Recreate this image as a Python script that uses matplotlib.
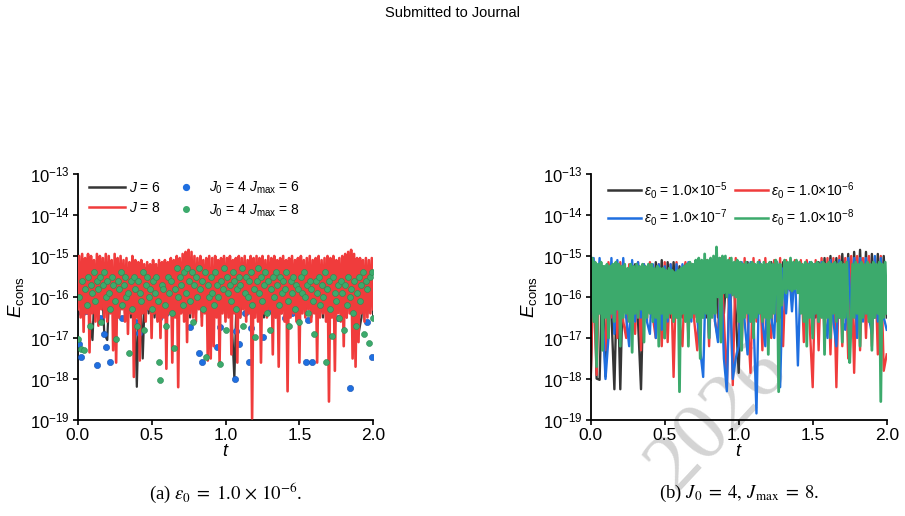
import numpy as np
import matplotlib
matplotlib.use('Agg')
import matplotlib.pyplot as plt
from matplotlib.lines import Line2D
from matplotlib.ticker import NullLocator

plt.rcParams['font.family'] = ['Liberation Sans', 'DejaVu Sans']
plt.rcParams['mathtext.fontset'] = 'custom'
plt.rcParams['mathtext.rm'] = 'Liberation Sans'
plt.rcParams['mathtext.it'] = 'Liberation Sans:italic'
plt.rcParams['mathtext.bf'] = 'Liberation Sans:bold'

# ---- data (log10 of E_cons) ----
# panel (a): J = 8, sampled every 0.01
t_a_red = np.linspace(0, 2, 201)
e_a_red = [
    -16.3, -15.0, -16.5, -14.95, -16.85, -15.05, -16.4, -14.95, -17.35, -15.0,
    -16.4, -15.1, -16.6, -14.95, -16.7, -15.0, -16.3, -15.05, -16.5, -14.95,
    -16.6, -15.0, -16.4, -15.1, -17.3, -14.95, -17.6, -15.05, -16.5, -15.0,
    -16.3, -15.1, -16.6, -15.05, -16.9, -15.15, -16.4, -15.0, -17.95, -15.1,
    -16.5, -15.15, -17.55, -15.1, -16.4, -15.2, -16.6, -15.15, -16.3, -15.2,
    -17.0, -15.1, -16.4, -15.2, -16.6, -15.1, -17.0, -15.15, -16.5, -15.1,
    -17.75, -15.15, -16.4, -15.05, -17.6, -15.1, -16.5, -15.0, -18.2, -15.05,
    -16.4, -14.95, -16.6, -14.9, -17.1, -14.85, -16.4, -14.9, -16.5, -15.0,
    -16.6, -15.05, -16.3, -15.0, -16.7, -15.1, -16.4, -15.05, -17.55, -15.0,
    -17.5, -15.05, -17.2, -15.0, -16.5, -15.1, -17.6, -15.05, -16.4, -15.0,
    -16.6, -15.05, -16.5, -15.0, -17.4, -15.1, -16.4, -15.05, -17.6, -15.0,
    -16.5, -15.05, -16.3, -15.0, -16.6, -15.1, -16.4, -15.0, -18.96, -15.05,
    -16.5, -15.0, -16.6, -15.05, -17.6, -15.0, -16.4, -15.1, -16.5, -15.0,
    -16.3, -15.05, -17.4, -15.0, -16.5, -15.1, -17.7, -15.05, -16.4, -15.0,
    -16.6, -15.1, -18.3, -15.05, -16.5, -15.0, -16.4, -15.1, -16.6, -15.05,
    -17.6, -15.0, -16.4, -15.1, -16.5, -15.05, -16.3, -15.0, -16.6, -15.1,
    -16.4, -15.05, -17.6, -15.0, -16.5, -15.1, -16.4, -15.05, -16.6, -15.0,
    -18.55, -15.05, -16.5, -15.0, -17.8, -15.1, -16.4, -15.05, -16.6, -15.0,
    -17.2, -14.95, -16.5, -14.9, -16.4, -14.85, -17.5, -14.95, -17.7, -15.05,
    -17.1, -15.05, -16.4, -15.1, -16.6, -15.05, -16.5, -15.1, -16.4, -15.05,
    -16.3,
]

# panel (a): J = 6, sampled every 0.02
t_a_black = np.linspace(0, 2, 101)
e_a_black = [
    -16.3, -15.3, -16.4, -15.3, -16.5, -17.05, -15.3, -16.4, -15.35, -16.9,
    -17.05, -15.3, -16.4, -15.3, -16.5, -15.35, -16.4, -15.3, -16.5, -15.3,
    -18.19, -15.4, -17.5, -15.3, -16.4, -15.35, -16.5, -15.3, -16.4, -15.3,
    -16.6, -15.3, -16.4, -15.35, -16.5, -15.3, -16.4, -15.3, -16.5, -15.3,
    -16.4, -15.35, -16.5, -15.3, -16.4, -15.3, -16.5, -15.35, -16.4, -15.3,
    -16.5, -15.3, -16.4, -18.0, -15.3, -16.5, -15.3, -16.4, -15.35, -16.5,
    -15.3, -16.4, -15.3, -16.5, -15.35, -16.4, -15.3, -16.5, -15.3, -16.4,
    -15.35, -16.5, -15.3, -16.4, -15.3, -16.5, -15.35, -16.4, -15.3, -16.5,
    -15.3, -16.4, -15.35, -16.5, -15.3, -16.4, -15.3, -16.5, -15.35, -16.4,
    -15.3, -16.5, -15.3, -16.4, -15.35, -16.9, -16.5, -15.3, -16.4, -15.35,
    -16.5,
]

# panel (a): J0 = 4, Jmax = 6 (dots)
t_a_blue = [0.011, 0.022, 0.03, 0.065, 0.1, 0.128, 0.15, 0.178, 0.189, 0.218,
            0.25, 0.3, 0.35, 0.39, 0.414, 0.45, 0.5, 0.55, 0.6, 0.65,
            0.7, 0.759, 0.8, 0.82, 0.842, 0.9, 0.94, 0.96, 1.0, 1.063,
            1.07, 1.09, 1.13, 1.16, 1.17, 1.2, 1.254, 1.3, 1.35, 1.4,
            1.45, 1.5, 1.543, 1.556, 1.588, 1.63, 1.68, 1.72, 1.76, 1.8,
            1.84, 1.88, 1.93, 1.96, 1.99]
e_a_blue = [-17.15, -17.47, -16.4, -16.34, -15.8, -17.66, -16.5, -16.9, -17.23, -17.58,
            -16.4, -16.5, -15.9, -16.6, -16.88, -16.3, -15.7, -16.5, -16.4, -15.8,
            -16.3, -16.73, -15.9, -17.36, -17.58, -16.4, -17.23, -16.73, -16.0, -18.0,
            -16.84, -17.15, -16.4, -17.58, -16.76, -15.9, -16.98, -16.3, -15.8, -16.5,
            -16.4, -16.1, -17.58, -16.57, -17.58, -16.3, -15.9, -16.4, -16.5, -15.8,
            -18.23, -16.4, -16.3, -16.6, -17.46]

# panel (a): J0 = 4, Jmax = 8 (dots), sampled every 0.01
t_a_green = np.linspace(0, 2, 201)
e_a_green = [
    -17.03, -16.0, -17.28, -15.6, -17.3, -15.8, -16.2, -15.5, -16.7, -15.7,
    -15.9, -15.4, -16.1, -15.6, -15.8, -15.5, -16.6, -15.7, -15.4, -16.0,
    -15.6, -15.9, -16.3, -15.5, -15.7, -16.1, -17.03, -15.6, -15.8, -15.4,
    -16.2, -15.7, -15.5, -16.0, -15.9, -17.37, -15.6, -16.3, -15.5, -15.8,
    -16.7, -15.6, -15.9, -16.1, -15.4, -16.8, -15.7, -15.5, -16.0, -15.8,
    -16.3, -15.6, -15.9, -15.5, -16.1, -17.59, -18.02, -15.7, -15.8, -16.2,
    -16.7, -15.5, -15.9, -15.6, -16.4, -17.25, -15.8, -15.3, -16.0, -15.5,
    -15.7, -16.2, -15.4, -15.9, -15.3, -15.6, -16.1, -15.4, -16.6, -15.7,
    -15.5, -16.0, -15.3, -15.8, -15.6, -16.3, -15.4, -17.47, -15.7, -16.0,
    -15.5, -15.9, -16.2, -15.4, -15.7, -16.0, -17.64, -15.6, -15.8, -15.3,
    -16.8, -15.5, -15.9, -15.7, -16.1, -15.4, -15.6, -16.3, -15.8, -15.5,
    -15.7, -15.3, -16.7, -15.9, -15.5, -16.0, -15.6, -15.4, -16.2, -15.8,
    -16.98, -15.6, -15.3, -15.9, -15.5, -16.1, -15.7, -15.4, -16.4, -15.6,
    -16.8, -15.8, -15.5, -16.0, -15.4, -15.7, -16.2, -15.5, -15.9, -15.6,
    -15.8, -15.4, -16.1, -16.7, -15.6, -15.9, -15.5, -16.3, -15.7, -15.8,
    -16.6, -15.5, -15.9, -15.4, -16.0, -15.7, -16.4, -15.6, -15.8, -16.1,
    -16.9, -15.6, -15.9, -15.5, -16.2, -15.7, -16.0, -15.4, -17.59, -15.8,
    -15.6, -16.3, -16.96, -15.5, -15.9, -16.1, -15.7, -16.5, -15.6, -15.9,
    -16.8, -15.7, -16.2, -15.5, -16.0, -15.8, -16.4, -15.6, -16.7, -15.9,
    -15.5, -16.1, -15.7, -15.4, -16.9, -15.6, -15.8, -17.11, -15.5, -15.4,
    -16.5,
]

# panel (b): eps0 = 1e-8 (green, every 0.01)
t_b_green = np.linspace(0, 2, 201)
e_b_green = [
    -16.3, -15.05, -16.6, -15.15, -17.7, -15.2, -16.4, -15.15, -17.3, -15.25,
    -16.5, -15.2, -17.0, -15.25, -16.4, -15.2, -16.6, -15.15, -16.3, -15.2,
    -17.2, -15.25, -16.5, -15.2, -16.4, -15.3, -16.6, -15.2, -17.35, -15.25,
    -16.4, -15.2, -16.5, -15.25, -16.3, -15.2, -17.1, -15.25, -16.5, -15.2,
    -16.4, -15.2, -16.6, -15.3, -16.5, -15.25, -17.2, -15.3, -16.4, -15.3,
    -17.0, -15.35, -16.5, -15.3, -16.4, -15.35, -16.6, -15.4, -16.5, -15.35,
    -18.31, -15.3, -16.4, -15.25, -16.6, -15.2, -17.2, -15.15, -16.5, -15.2,
    -16.4, -15.1, -16.6, -15.05, -17.5, -15.1, -16.5, -14.95, -16.4, -15.1,
    -17.0, -15.05, -16.5, -15.0, -16.4, -14.78, -16.0, -15.05, -17.1, -15.0,
    -15.9, -15.0, -16.0, -15.1, -15.9, -15.05, -15.95, -15.15, -16.0, -15.1,
    -16.6, -15.15, -17.3, -15.2, -16.5, -15.15, -16.4, -15.2, -16.6, -15.15,
    -17.0, -15.2, -16.5, -15.15, -16.4, -15.2, -16.6, -15.15, -16.5, -15.2,
    -17.4, -15.15, -16.5, -15.2, -16.4, -15.1, -15.2, -18.31, -15.2, -16.2,
    -15.8, -15.1, -15.9, -15.15, -15.8, -15.05, -15.85, -15.15, -15.8, -15.1,
    -15.9, -15.15, -16.4, -15.2, -16.6, -15.15, -17.2, -15.2, -16.5, -15.15,
    -17.0, -15.2, -16.4, -15.15, -16.6, -15.2, -16.5, -15.15, -17.4, -15.2,
    -16.5, -15.15, -17.0, -15.2, -16.4, -15.15, -16.6, -15.2, -16.5, -15.15,
    -17.1, -15.2, -16.5, -15.15, -16.4, -17.6, -16.6, -15.2, -16.5, -15.15,
    -16.4, -15.2, -17.2, -15.15, -16.5, -15.2, -16.4, -15.15, -16.6, -15.2,
    -17.3, -15.15, -16.5, -15.2, -16.4, -15.15, -18.55, -15.2, -16.5, -15.15,
    -16.4,
]

# panel (b): eps0 = 1e-5, 1e-6, 1e-7 (every 0.02)
t_b = np.linspace(0, 2, 101)
e_b_black = [
    -18.02, -15.2, -17.99, -18.02, -15.25, -17.94, -15.2, -16.4, -18.25, -15.25,
    -18.25, -15.2, -16.5, -15.25, -16.4, -15.2, -16.6, -18.25, -15.25, -16.4,
    -15.2, -16.5, -15.15, -16.4, -15.1, -17.0, -15.15, -16.5, -15.15, -16.4,
    -15.25, -16.5, -15.2, -16.4, -15.25, -16.5, -15.2, -16.4, -15.25, -16.5,
    -15.2, -16.4, -15.25, -16.5, -15.2, -16.4, -15.25, -16.5, -15.2, -16.4,
    -17.85, -15.2, -16.5, -15.15, -16.4, -15.2, -16.5, -15.15, -16.4, -15.2,
    -16.5, -15.15, -16.4, -15.2, -16.5, -15.15, -15.7, -15.2, -15.7, -15.15,
    -15.7, -15.2, -16.5, -15.15, -16.4, -15.2, -16.5, -15.15, -16.4, -15.05,
    -16.5, -15.0, -16.4, -15.05, -16.5, -14.95, -16.4, -14.95, -16.5, -14.9,
    -16.4, -14.85, -16.5, -14.9, -16.4, -14.95, -16.5, -14.95, -16.4, -15.0,
    -16.5,
]
e_b_red = [
    -18.0, -15.15, -17.9, -15.2, -16.6, -17.3, -15.15, -16.5, -15.2, -17.0,
    -15.15, -16.6, -17.0, -15.2, -16.5, -16.9, -15.15, -17.3, -15.2, -16.6,
    -15.15, -16.5, -17.0, -15.2, -17.2, -15.15, -17.1, -15.2, -17.95, -15.15,
    -16.6, -17.2, -15.15, -17.0, -15.2, -16.6, -17.3, -15.15, -16.5, -15.1,
    -17.2, -15.1, -16.6, -17.0, -15.05, -16.5, -18.2, -15.05, -18.15, -15.05,
    -16.6, -17.2, -15.05, -16.5, -17.85, -15.05, -16.6, -15.1, -17.3, -15.05,
    -16.5, -17.0, -15.1, -16.6, -15.05, -17.2, -15.1, -15.8, -15.9, -15.1,
    -15.8, -15.1, -17.1, -15.1, -16.7, -18.2, -15.1, -17.3, -15.05, -17.0,
    -15.05, -17.4, -15.05, -18.2, -15.0, -17.2, -15.05, -17.5, -15.0, -17.85,
    -15.0, -17.3, -15.05, -17.0, -15.0, -17.2, -15.05, -17.4, -15.0, -17.8,
    -17.4,
]
e_b_blue = [
    -16.5, -15.05, -16.6, -15.05, -16.4, -18.0, -17.0, -15.05, -16.9, -15.1,
    -16.6, -15.05, -16.5, -17.2, -15.1, -16.6, -15.15, -16.5, -15.2, -16.6,
    -16.9, -15.2, -17.0, -15.2, -16.8, -15.25, -16.6, -15.2, -16.5, -15.2,
    -16.6, -15.2, -16.5, -15.15, -16.6, -15.2, -16.5, -17.3, -17.95, -15.15,
    -17.0, -15.1, -16.6, -17.1, -15.4, -17.5, -18.3, -15.4, -18.0, -17.5,
    -17.2, -15.15, -16.6, -17.4, -15.15, -16.5, -18.84, -15.15, -16.6, -17.2,
    -15.2, -16.5, -17.0, -15.15, -18.2, -15.3, -16.4, -15.3, -16.35, -15.3,
    -17.67, -15.3, -16.4, -16.6, -15.15, -16.9, -15.2, -16.6, -15.15, -16.5,
    -17.0, -15.1, -16.6, -17.2, -15.1, -16.6, -16.8, -15.05, -16.5, -15.05,
    -17.0, -15.05, -16.6, -15.05, -16.5, -16.9, -15.0, -16.6, -15.05, -16.5,
    -16.8,
]

c_black = '#353535'
c_red = '#f03c3c'
c_blue = '#1f6fe0'
c_green = '#3caa6c'


def style_axes(ax):
    ax.set_facecolor('none')
    ax.set_yscale('log')
    ax.set_ylim(1e-19, 1e-13)
    ax.set_xlim(0, 2)
    ax.set_yticks([10.0 ** k for k in range(-19, -12)])
    ax.set_xticks([0.0, 0.5, 1.0, 1.5, 2.0])
    ax.set_xticklabels(['0.0', '0.5', '1.0', '1.5', '2.0'])
    ax.yaxis.set_minor_locator(NullLocator())
    ax.spines['top'].set_visible(False)
    ax.spines['right'].set_visible(False)
    for s in ('left', 'bottom'):
        ax.spines[s].set_linewidth(1.3)
    ax.tick_params(direction='out', length=3.5, width=1.2, labelsize=12.5, pad=2)
    ax.tick_params(axis='y', labelsize=12)
    ax.set_xlabel('$t$', fontsize=13, labelpad=0)
    ax.set_ylabel(r'$E_{\mathrm{cons}}$', fontsize=13.5, labelpad=3)


fig = plt.figure(figsize=(9.05, 5.16), dpi=100)
ax1 = fig.add_axes([77.7 / 905, 1 - 420 / 516, 295.6 / 905, 246 / 516])
ax2 = fig.add_axes([590.7 / 905, 1 - 420 / 516, 296 / 905, 246 / 516])

# (a)
ax1.plot(t_a_black, 10.0 ** np.array(e_a_black), color=c_black, lw=1.6, zorder=2)
ax1.plot(t_a_blue, 10.0 ** np.array(e_a_blue), 'o', color=c_blue, ms=4.5,
         mec='#1550b0', mew=0.4, zorder=3)
ax1.plot(t_a_red, 10.0 ** np.array(e_a_red), color=c_red, lw=1.9, zorder=4)
ax1.plot(t_a_green, 10.0 ** np.array(e_a_green), 'o', color=c_green, ms=4.3,
         mec='#2a8a52', mew=0.4, zorder=5)
style_axes(ax1)

h_a = [Line2D([], [], color=c_black, lw=1.8),
       Line2D([], [], color=c_red, lw=1.8),
       Line2D([], [], ls='none', marker='o', color=c_blue, ms=4.2),
       Line2D([], [], ls='none', marker='o', color=c_green, ms=4.0)]
l_a = ['$J$ = 6', '$J$ = 8',
       r'$J_0$ = 4 $J_{\mathrm{max}}$ = 6', r'$J_0$ = 4 $J_{\mathrm{max}}$ = 8']
ax1.legend(h_a, l_a, ncol=2, loc='upper left', bbox_to_anchor=(0.02, 1.0),
           frameon=False, fontsize=10, handlelength=2.6, handletextpad=0.3,
           columnspacing=0.5, labelspacing=0.45, borderaxespad=0)

# (b)
ax2.plot(t_b, 10.0 ** np.array(e_b_black), color=c_black, lw=1.7)
ax2.plot(t_b, 10.0 ** np.array(e_b_red), color=c_red, lw=1.7)
ax2.plot(t_b, 10.0 ** np.array(e_b_blue), color=c_blue, lw=1.7)
ax2.plot(t_b_green, 10.0 ** np.array(e_b_green), color=c_green, lw=2.0)
style_axes(ax2)

h_b = [Line2D([], [], color=c, lw=1.8) for c in (c_black, c_blue, c_red, c_green)]
l_b = [r'$\varepsilon_0$ = 1.0×10$^{-5}$', r'$\varepsilon_0$ = 1.0×10$^{-7}$',
       r'$\varepsilon_0$ = 1.0×10$^{-6}$', r'$\varepsilon_0$ = 1.0×10$^{-8}$']
ax2.legend(h_b, l_b, ncol=2, loc='upper left', bbox_to_anchor=(0.04, 1.0),
           frameon=False, fontsize=10, handlelength=2.4, handletextpad=0.2,
           columnspacing=0.5, labelspacing=0.45, borderaxespad=0)

# page furniture
fig.text(0.5, 1 - 13 / 516, 'Submitted to Journal', ha='center', va='center',
         fontsize=10.5)
fig.text(225.5 / 905, 1 - 493 / 516,
         r'(a) $\epsilon_0\;=\;1.0\,\times\,10^{-6}$.',
         ha='center', va='center', fontsize=13.5, family='Liberation Serif',
         math_fontfamily='stix')
fig.text(738.7 / 905, 1 - 493 / 516,
         r'(b) $\mathbf{\mathit{J}}_0\;=\;4,\,\mathbf{\mathit{J}}_{\mathrm{max}}\;=\;8$.',
         ha='center', va='center', fontsize=13.5, family='Liberation Serif',
         math_fontfamily='stix')
fig.text(718 / 905, 1 - 418 / 516, '2026', ha='center', va='center',
         rotation=47, fontsize=60, color='#d4d4d4', family='Liberation Serif',
         zorder=-1)

fig.savefig('out.png', dpi=100)
